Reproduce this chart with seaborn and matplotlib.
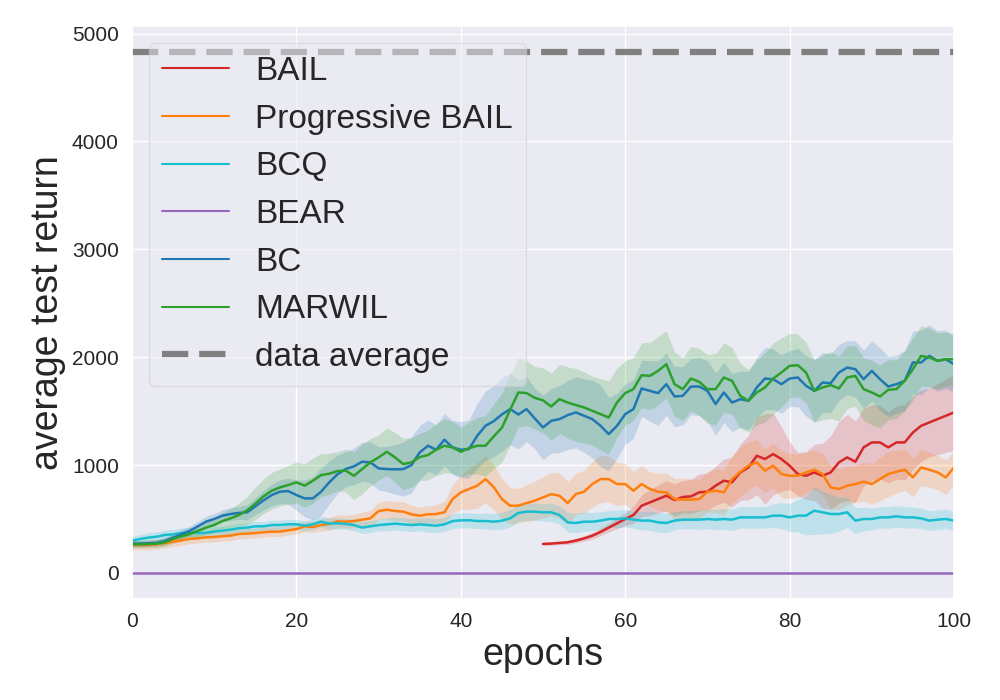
import numpy as np
import seaborn as sns
import matplotlib.pyplot as plt

epochs = list(range(0, 101))
bail_epochs = list(range(50, 101))

bc_mean = [272, 272, 275, 278, 296, 327, 358, 389, 432, 475,
           500, 531, 546, 556, 562, 617, 673, 722, 753, 759,
           722, 691, 691, 753, 840, 915, 963, 988, 1031, 1025,
           969, 963, 960, 963, 1000, 1117, 1179, 1142, 1235, 1164,
           1142, 1148, 1272, 1364, 1407, 1469, 1519, 1469, 1519, 1432,
           1349, 1410, 1426, 1463, 1488, 1457, 1426, 1364, 1287, 1364,
           1472, 1519, 1710, 1688, 1667, 1750, 1636, 1642, 1728, 1728,
           1688, 1565, 1673, 1580, 1611, 1596, 1719, 1802, 1796, 1750,
           1802, 1812, 1735, 1688, 1765, 1759, 1858, 1904, 1889, 1796,
           1873, 1796, 1728, 1750, 1781, 1951, 1951, 2012, 1966, 1981,
           1935]
bc_band = [30, 30, 30, 30, 35, 40, 40, 45, 45, 50,
           50, 55, 60, 60, 70, 80, 90, 100, 110, 120,
           140, 170, 200, 220, 200, 180, 160, 170, 180, 190,
           200, 210, 230, 250, 260, 250, 240, 230, 240, 250,
           260, 270, 300, 320, 330, 340, 330, 320, 300, 280,
           300, 300, 310, 320, 330, 340, 360, 380, 340, 300,
           280, 270, 260, 280, 300, 290, 280, 270, 260, 270,
           280, 290, 280, 270, 260, 270, 280, 290, 280, 270,
           260, 270, 280, 290, 280, 270, 260, 250, 260, 270,
           280, 290, 280, 270, 280, 290, 300, 290, 280, 270,
           260]

marwil_mean = [265, 265, 268, 272, 284, 315, 340, 361, 389, 420,
               444, 481, 506, 537, 580, 642, 710, 762, 793, 815,
               840, 809, 855, 907, 920, 944, 948, 901, 963, 1025,
               1071, 1123, 1071, 1009, 1025, 1074, 1093, 1142, 1179, 1164,
               1123, 1157, 1179, 1179, 1265, 1346, 1512, 1673, 1667, 1623,
               1600, 1543, 1611, 1580, 1556, 1534, 1503, 1472, 1441, 1580,
               1667, 1704, 1833, 1827, 1873, 1935, 1750, 1704, 1802, 1772,
               1704, 1704, 1812, 1781, 1642, 1596, 1673, 1719, 1802, 1858,
               1920, 1926, 1858, 1688, 1719, 1741, 1710, 1812, 1827, 1704,
               1673, 1636, 1698, 1704, 1781, 1889, 2012, 1997, 1966, 1981,
               1981]
marwil_band = [30, 30, 30, 35, 35, 40, 45, 50, 55, 60,
               70, 80, 90, 110, 130, 150, 160, 170, 170, 180,
               190, 200, 210, 200, 190, 180, 200, 220, 230, 220,
               210, 220, 230, 240, 230, 220, 230, 240, 250, 240,
               230, 240, 260, 280, 300, 320, 330, 320, 300, 290,
               300, 310, 320, 330, 340, 330, 320, 330, 340, 320,
               300, 290, 300, 310, 320, 310, 300, 290, 300, 310,
               320, 330, 320, 310, 300, 290, 300, 320, 330, 320,
               300, 290, 280, 290, 300, 310, 300, 290, 280, 290,
               300, 290, 280, 270, 280, 290, 280, 270, 260, 250,
               240]

pbail_mean = [259, 259, 259, 265, 278, 290, 302, 315, 321, 330,
              333, 340, 346, 361, 364, 370, 377, 383, 383, 395,
              407, 432, 426, 444, 454, 478, 475, 481, 494, 506,
              574, 586, 574, 568, 543, 531, 543, 546, 562, 685,
              747, 778, 809, 870, 796, 685, 623, 623, 648, 670,
              700, 731, 716, 648, 731, 753, 824, 870, 870, 824,
              824, 762, 824, 778, 753, 747, 685, 679, 679, 685,
              753, 762, 747, 870, 938, 994, 1025, 948, 994, 917,
              901, 901, 932, 957, 917, 793, 778, 809, 824, 846,
              824, 870, 917, 938, 957, 886, 978, 957, 932, 886,
              978]
pbail_band = [45, 45, 45, 45, 45, 45, 45, 45, 45, 45,
              45, 45, 45, 45, 45, 45, 45, 45, 45, 45,
              45, 50, 50, 55, 60, 60, 60, 65, 70, 75,
              80, 85, 90, 90, 85, 80, 80, 85, 100, 130,
              160, 190, 210, 220, 210, 190, 170, 160, 170, 180,
              190, 200, 210, 200, 190, 200, 210, 220, 210, 200,
              190, 180, 170, 160, 170, 180, 190, 200, 190, 180,
              190, 200, 210, 220, 230, 220, 210, 200, 210, 220,
              210, 200, 190, 180, 190, 200, 190, 180, 170, 180,
              190, 200, 210, 200, 190, 180, 170, 160, 160, 160,
              160]

bcq_mean = [299, 315, 327, 336, 352, 358, 370, 377, 370, 372,
            383, 392, 401, 414, 420, 432, 432, 444, 444, 451,
            451, 438, 451, 475, 457, 460, 454, 444, 420, 432,
            444, 450, 457, 450, 444, 450, 444, 438, 450, 481,
            488, 488, 481, 481, 475, 484, 506, 556, 568, 568,
            562, 562, 537, 469, 463, 475, 475, 485, 500, 500,
            506, 494, 485, 485, 469, 463, 485, 494, 494, 494,
            500, 494, 500, 494, 515, 515, 515, 515, 531, 531,
            515, 531, 531, 577, 562, 546, 546, 562, 485, 500,
            500, 515, 515, 525, 515, 515, 506, 485, 494, 500,
            485]
bcq_band = [40, 40, 45, 45, 45, 45, 45, 45, 45, 45,
            45, 45, 45, 45, 45, 45, 45, 45, 45, 45,
            45, 45, 50, 50, 50, 50, 50, 55, 55, 55,
            55, 60, 60, 60, 60, 60, 65, 65, 65, 70,
            70, 70, 70, 75, 75, 80, 80, 80, 80, 80,
            80, 85, 85, 90, 90, 90, 85, 80, 80, 80,
            80, 80, 85, 90, 90, 90, 85, 85, 85, 90,
            90, 95, 95, 100, 100, 100, 100, 100, 110, 120,
            130, 150, 180, 220, 200, 180, 160, 140, 120, 110,
            100, 100, 100, 100, 100, 95, 95, 90, 90, 90,
            90]

bear_mean = [0.0] * 101
bear_band = [2.0] * 101

bail_mean = [269, 272, 278, 284, 300, 320, 345, 380, 420, 460,
             500, 537, 623, 654, 685, 716, 676, 704, 710, 747,
             753, 809, 855, 840, 932, 978, 1086, 1056, 1102, 1056,
             994, 917, 901, 932, 901, 932, 1025, 1071, 1031, 1164,
             1210, 1210, 1164, 1210, 1210, 1302, 1364, 1395, 1426, 1457,
             1488]
bail_band = [15, 15, 18, 20, 22, 25, 30, 35, 40, 50,
             60, 80, 100, 120, 130, 140, 150, 150, 160, 170,
             170, 180, 200, 230, 260, 300, 360, 420, 380, 300,
             220, 200, 220, 260, 300, 340, 380, 400, 380, 360,
             350, 340, 330, 340, 350, 340, 330, 320, 330, 340,
             350]

data_average = 4830

series = [
    ("BAIL", bail_epochs, bail_mean, bail_band, "tab:red"),
    ("Progressive BAIL", epochs, pbail_mean, pbail_band, "tab:orange"),
    ("BCQ", epochs, bcq_mean, bcq_band, "tab:cyan"),
    ("BEAR", epochs, bear_mean, bear_band, "tab:purple"),
    ("BC", epochs, bc_mean, bc_band, "tab:blue"),
    ("MARWIL", epochs, marwil_mean, marwil_band, "tab:green"),
]

sns.set_theme(style="darkgrid")
plt.rcParams['font.family'] = ['Liberation Sans', 'DejaVu Sans']

fig, ax = plt.subplots(figsize=(10, 7), dpi=100)
fig.subplots_adjust(left=0.132, right=0.954, top=0.963, bottom=0.144)

for name, x, mean, band, color in series:
    m = np.array(mean, dtype=float)
    b = np.array(band, dtype=float)
    sns.lineplot(x=x, y=m, ax=ax, color=color, linewidth=1.8, label=name)
    ax.fill_between(x, m - b, m + b, color=color, alpha=0.2, linewidth=0)

ax.axhline(data_average, color="gray", linestyle="--", dashes=(4.2, 1.75),
           linewidth=4.5, label="data average")

ax.set_xlim(0, 100)
ax.set_xticks([0, 20, 40, 60, 80, 100])
ax.set_yticks([0, 1000, 2000, 3000, 4000, 5000])
ax.tick_params(labelsize=15)
ax.set_xlabel("epochs", fontsize=27)
ax.set_ylabel("average test return", fontsize=27)
leg = ax.legend(loc="upper left", fontsize=24, labelspacing=0.5, framealpha=0.5)
for line in leg.get_lines()[:-1]:
    line.set_linewidth(1.5)

plt.savefig("out.png")
